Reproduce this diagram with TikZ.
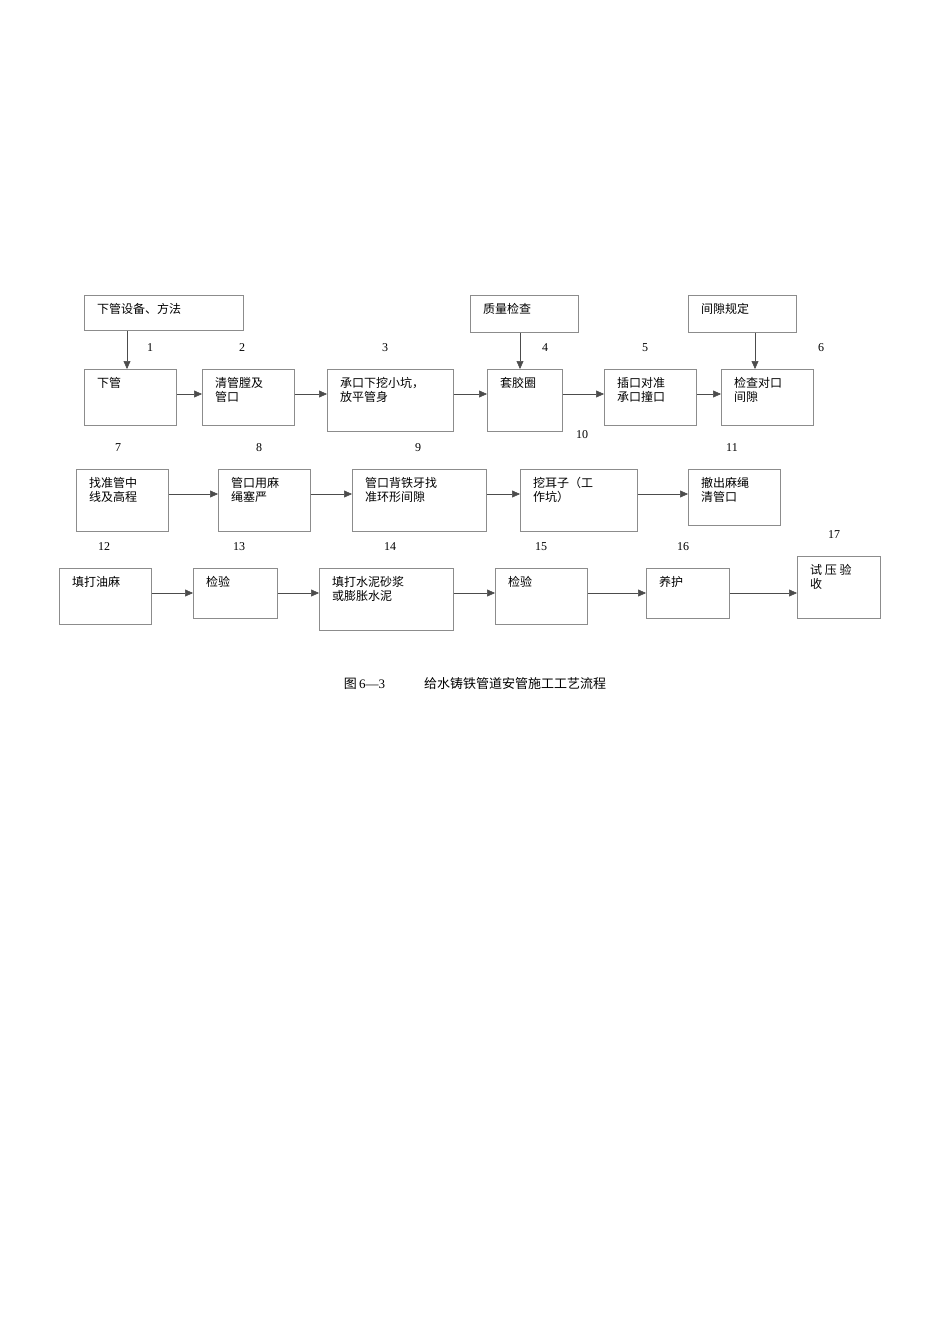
\documentclass[tikz,border=0pt]{standalone}
\usepackage{fontspec}
\setmainfont{Liberation Serif}
\newfontfamily\cjk{Noto Sans CJK SC}
\usetikzlibrary{arrows.meta}
\tikzset{
 bx/.style={draw=black!45,line width=0.6pt,anchor=north west,inner sep=0pt},
 tx/.style={anchor=north west,align=left,font=\cjk\fontsize{12}{14.5}\selectfont,inner sep=0pt,xshift=13pt,yshift=-8pt},
 num/.style={font=\fontsize{12}{14}\selectfont,inner sep=0pt},
 ar/.style={-{Triangle[length=8pt,width=7pt]},line width=0.5pt,draw=black!70}
}
\newcommand{\bxx}[6]{\node[bx,minimum width=#3pt,minimum height=#4pt] (#5) at (#1,#2) {};
 \node[tx] (#5t) at (#5.north west) {#6};}
\begin{document}
\begin{tikzpicture}[x=1pt,y=-1pt]
\useasboundingbox (0,0) rectangle (950,1344);
\fill[white] (0,0) rectangle (950,1344);
\bxx{84}{295}{159}{35}{a0}{下管设备、方法}
\bxx{470}{295}{108}{37}{b0}{质量检查}
\bxx{688}{295}{108}{37}{c0}{间隙规定}
\bxx{84}{369}{92}{56}{n1}{下管}
\bxx{202}{369}{92}{56}{n2}{清管膛及\\管口}
\bxx{327}{369}{126}{62}{n3}{承口下挖小坑，\\放平管身}
\bxx{487}{369}{75}{62}{n4}{套胶圈}
\bxx{604}{369}{92}{56}{n5}{插口对准\\承口撞口}
\bxx{721}{369}{92}{56}{n6}{检查对口\\间隙}
\bxx{76}{469}{92}{62}{n7}{找准管中\\线及高程}
\bxx{218}{469}{92}{62}{n8}{管口用麻\\绳塞严}
\bxx{352}{469}{134}{62}{n9}{管口背铁牙找\\准环形间隙}
\bxx{520}{469}{117}{62}{n10}{挖耳子（工\\作坑）}
\bxx{688}{469}{92}{56}{n11}{撤出麻绳\\清管口}
\bxx{59}{568}{92}{56}{n12}{填打油麻}
\bxx{193}{568}{84}{50}{n13}{检验}
\bxx{319}{568}{134}{62}{n14}{填打水泥砂浆\\或膨胀水泥}
\bxx{495}{568}{92}{56}{n15}{检验}
\bxx{646}{568}{83}{50}{n16}{养护}
\bxx{797}{556}{83}{62}{n17}{试 压 验\\收}
\draw[ar] (a0.south -| 127,0) -- (n1.north -| 127,0);
\draw[ar] (b0.south -| 520,0) -- (n4.north -| 520,0);
\draw[ar] (c0.south -| 755,0) -- (n6.north -| 755,0);
\foreach \p/\q in {n1/n2,n2/n3,n3/n4,n4/n5,n5/n6}{\draw[ar] (\p.east |- 0,394) -- (\q.west |- 0,394);}
\foreach \p/\q in {n7/n8,n8/n9,n9/n10,n10/n11}{\draw[ar] (\p.east |- 0,494) -- (\q.west |- 0,494);}
\foreach \p/\q in {n12/n13,n13/n14,n14/n15,n15/n16,n16/n17}{\draw[ar] (\p.east |- 0,593) -- (\q.west |- 0,593);}
\foreach \t/\x/\y in {1/150/348,2/242/348,3/385/348,4/545/348,5/645/348,6/821/348,7/118/448,8/259/448,9/418/448,10/582/435,11/732/448,12/104/547,13/239/547,14/390/547,15/541/547,16/683/547,17/834/535}
 {\node[num] (m\t) at (\x,\y) {\t};}
\node[font=\fontsize{13}{15}\selectfont,inner sep=0pt] (cap) at (475,684) {{\cjk 图}\,6—3\hspace{3em}{\cjk 给水铸铁管道安管施工工艺流程}};
\end{tikzpicture}
\end{document}
